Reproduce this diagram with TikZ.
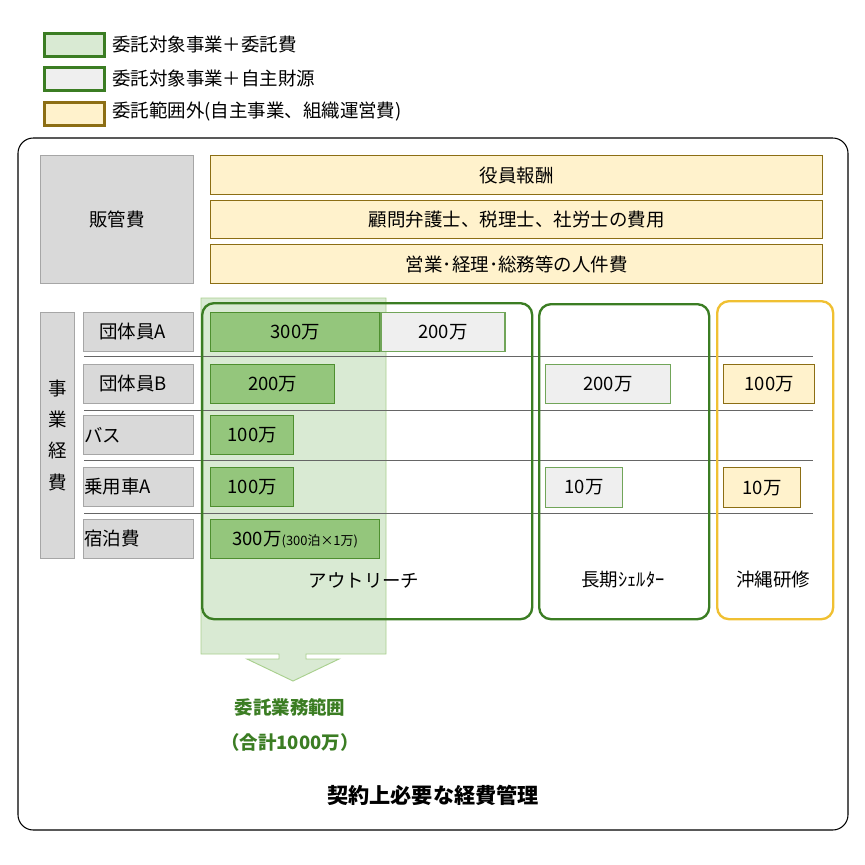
\documentclass[tikz,border=0pt]{standalone}
\usepackage{fontspec}
\setmainfont{Noto Sans CJK JP}
\usepackage{xcolor}
\usetikzlibrary{positioning}
\definecolor{frgreen}{RGB}{59,125,35}
\definecolor{boxgreen}{RGB}{148,198,124}
\definecolor{boxline}{RGB}{78,143,47}
\definecolor{colgreen}{RGB}{217,234,211}
\definecolor{colline}{RGB}{169,208,142}
\definecolor{lightgray}{RGB}{239,239,239}
\definecolor{hdgray}{RGB}{217,217,217}
\definecolor{hdline}{RGB}{166,166,166}
\definecolor{ylwbg}{RGB}{255,242,204}
\definecolor{ylwline}{RGB}{140,110,20}
\definecolor{goldframe}{RGB}{240,192,50}
\newcommand{\px}{0.85pt}

\tikzset{
  box/.style 2 args={draw, inner sep=0, anchor=north west, minimum width=#1*\px, minimum height=#2*\px},
  greencell/.style={fill=boxgreen, draw=boxline, line width=1.2pt},
  graycell/.style={fill=lightgray, draw=boxline!80, line width=1pt},
  ylwcell/.style={fill=ylwbg, draw=ylwline, line width=1.2pt},
  headcell/.style={fill=hdgray, draw=hdline, line width=0.6pt},
  frame/.style={draw=frgreen, line width=2pt, rounded corners=10pt},
  sepline/.style={draw=black!60, line width=0.8pt}
}

\begin{document}
\begin{tikzpicture}[x=\px, y=-\px, every node/.style={font=\fontsize{15.7}{18}\selectfont}]
    \useasboundingbox (0,0) rectangle (865,865);

    % Outer frame
    \draw[line width=0.9pt, rounded corners=13pt] (18,138) rectangle (848,830);

    % Legend
    \node[box={60}{23}, fill=colgreen, draw=frgreen, line width=2.4pt] (lg1) at (43,32) {};
    \node[box={60}{23}, fill=lightgray, draw=frgreen, line width=2.4pt] (lg2) at (43,66) {};
    \node[box={60}{23}, fill=ylwbg, draw=ylwline, line width=2.4pt] (lg3) at (43,101) {};
    \node[anchor=west] (lgt1) at (108,44) {委託対象事業＋委託費};
    \node[anchor=west] (lgt2) at (108,78) {委託対象事業＋自主財源};
    \node[anchor=west] (lgt3) at (108,112) {委託範囲外(自主事業、組織運営費)};

    % Selling and admin costs
    \node[box={153}{128}, headcell] (hanka) at (40,155) {販管費};
    \node[box={612}{39}, ylwcell] (yakuin) at (210,155) {役員報酬};
    \node[box={612}{38}, ylwcell] (komon) at (210,200) {顧問弁護士、税理士、社労士の費用};
    \node[box={612}{39}, ylwcell] (eigyo) at (210,244) {営業･経理･総務等の人件費};

    % Commissioned scope column
    \draw[fill=colgreen, draw=colline, line width=0.8pt]
        (201,298) -- (386,298) -- (386,654) -- (306,654) -- (306,659) -- (339,659)
        -- (293,681) -- (247,659) -- (279,659) -- (279,654) -- (201,654) -- cycle;

    % Row separators
    \draw[sepline] (84,356) -- (813,356);
    \draw[sepline] (84,410) -- (813,410);
    \draw[sepline] (84,460) -- (813,460);
    \draw[sepline] (84,513) -- (813,513);

    % Project frames
    \node[box={330}{316}, frame] (outreach) at (201,302) {};
    \node[box={170}{315}, frame] (shelter) at (538,303) {};
    \node[box={116}{318}, frame, draw=goldframe] (okinawa) at (716,300) {};
    \node (outreachlbl) at (364,580) {アウトリーチ};
    \node (shelterlbl) at (623,580) {長期ｼｪﾙﾀｰ};
    \node (okinawalbl) at (773,580) {沖縄研修};

    % Project expense rows
    \node[box={34}{246}, headcell, align=center, font=\fontsize{15.7}{26.5}\selectfont] (jigyo) at (40,312) {事\\業\\経\\費};
    \node[box={110}{39}, headcell, text width=108*\px, align=left] (rowa) at (83,312) {\hspace*{0.8em}団体員A};
    \node[box={110}{39}, headcell, text width=108*\px, align=left] (rowb) at (83,364) {\hspace*{0.8em}団体員B};
    \node[box={110}{39}, headcell, text width=108*\px, align=left] (rowbus) at (83,415) {バス};
    \node[box={110}{39}, headcell, text width=108*\px, align=left] (rowcar) at (83,467) {乗用車A};
    \node[box={110}{39}, headcell, text width=108*\px, align=left] (rowstay) at (83,519) {宿泊費};

    % Amounts
    \node[box={169}{39}, greencell] (oa) at (210,312) {300万};
    \node[box={124}{39}, graycell, anchor=west, right=0pt of oa] (ob) {200万};
    \node[box={124}{39}, greencell] (obb) at (210,364) {200万};
    \node[box={83}{39}, greencell] (obus) at (210,415) {100万};
    \node[box={83}{39}, greencell] (ocar) at (210,467) {100万};
    \node[box={169}{39}, greencell] (ostay) at (210,519) {300万{\fontsize{11}{12}\selectfont(300泊×1万)}};
    \node[box={125}{39}, graycell] (sb) at (545,364) {200万};
    \node[box={77}{40}, graycell] (scar) at (545,467) {10万};
    \node[box={91}{39}, ylwcell] (kb) at (723,364) {100万};
    \node[box={77}{40}, ylwcell] (kcar) at (723,467) {10万};

    % Totals
    \node[align=center, text=frgreen, font=\fontsize{15.7}{29}\bfseries] (scope) at (290,725) {委託業務範囲\\（合計1000万）};
    \node[font=\fontsize{18}{20}\bfseries] (title) at (433,795) {契約上必要な経費管理};
\end{tikzpicture}
\end{document}
